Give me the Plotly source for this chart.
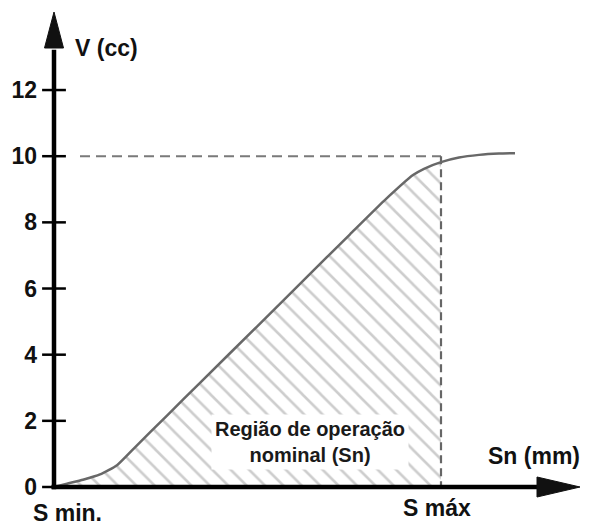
import plotly.graph_objects as go

# ---- data ----
curve_x = [0, 1.3, 2.9, 4.6, 6.3, 8.0, 11.3, 14.6, 20.3, 25.0, 29.6, 33.0, 35.9, 37.0, 38.7, 40.5, 42.5, 44.5, 46.1]
curve_y = [0, 0.10, 0.22, 0.38, 0.66, 1.17, 2.16, 3.15, 4.85, 6.26, 7.64, 8.65, 9.43, 9.62, 9.82, 9.96, 10.04, 10.08, 10.09]
S_MAX = 38.7
V_REF = 10
DASH_START = 2.6
y_ticks = [0, 2, 4, 6, 8, 10, 12]

# ---- geometry (page has an 8px body margin; px = X0PX + 10*x ; py = Y0PX - 33.08*y) ----
W, H = 582, 520
X0PX, XS = 46, 10.0
Y0PX, YS = 479, 33.08
x_range = [-X0PX / XS, (W - X0PX) / XS]
y_range = [(Y0PX - H) / YS, Y0PX / YS]

X_TIP, X_BASE, X_HALF = 52.6, 48.3, 10 / YS
Y_TIP, Y_BASE, Y_HALF = 475 / YS, 439 / YS, 9.5 / XS

fig = go.Figure()

# hatched region
hx = [x for x in curve_x if x <= S_MAX]
hy = curve_y[:len(hx)]
fig.add_trace(go.Scatter(
    x=hx + [S_MAX], y=hy + [0], mode="lines", line=dict(width=0, color="rgba(0,0,0,0)"),
    fill="tozeroy", fillcolor="rgba(0,0,0,0)",
    fillpattern=dict(shape="\\", size=13, solidity=0.2, fgcolor="#9c9c9c", bgcolor="rgba(0,0,0,0)"),
    hoverinfo="skip", showlegend=False))

# dashed reference lines
fig.add_trace(go.Scatter(x=[DASH_START, S_MAX], y=[V_REF, V_REF], mode="lines",
                         line=dict(color="#7a7a7a", width=2, dash="10px,6px"), showlegend=False))
fig.add_trace(go.Scatter(x=[S_MAX, S_MAX], y=[V_REF, 0], mode="lines",
                         line=dict(color="#666666", width=2.2, dash="8px,5px"), showlegend=False))

# curve
fig.add_trace(go.Scatter(x=curve_x, y=curve_y, mode="lines",
                         line=dict(color="#686868", width=2.5, shape="spline", smoothing=0.5),
                         showlegend=False))

# tick crossers
fig.add_trace(go.Scatter(x=[0] * len(y_ticks), y=y_ticks, mode="markers",
                         marker=dict(symbol="line-ew", size=17, line=dict(width=2.5, color="black")),
                         showlegend=False, cliponaxis=False))

# axes lines + arrowheads
shapes = [
    dict(type="line", xref="x", yref="y", x0=-0.25, y0=0, x1=X_BASE + 0.2, y1=0,
         line=dict(color="black", width=4.5), layer="above"),
    dict(type="line", xref="x", yref="y", x0=0, y0=-0.07, x1=0, y1=Y_BASE - 0.05,
         line=dict(color="black", width=4.5), layer="above"),
    dict(type="path", xref="x", yref="y",
         path=f"M{X_TIP},0 L{X_BASE},{X_HALF} L{X_BASE},{-X_HALF} Z",
         fillcolor="#111111", line=dict(color="#111111", width=1), layer="above"),
    dict(type="path", xref="x", yref="y",
         path=f"M0,{Y_TIP} L{Y_HALF},{Y_BASE} L{-Y_HALF},{Y_BASE} Z",
         fillcolor="#111111", line=dict(color="#111111", width=1), layer="above"),
]

FONT = "Liberation Sans, Arial, sans-serif"
ann = [
    dict(x=1.9, y=13.27, text="V (cc)", xanchor="left", yanchor="middle", showarrow=False,
         font=dict(family=FONT, size=23, color="#111111", weight="bold")),
    dict(x=47.95, y=0.94, text="Sn (mm)", xanchor="center", yanchor="middle", showarrow=False,
         font=dict(family=FONT, size=23, color="#111111", weight="bold")),
    dict(x=1.35, y=-0.79, text="S min.", xanchor="center", yanchor="middle", showarrow=False,
         font=dict(family=FONT, size=23, color="#111111", weight="bold")),
    dict(x=38.3, y=-0.63, text="S máx", xanchor="center", yanchor="middle", showarrow=False,
         font=dict(family=FONT, size=23, color="#111111", weight="bold")),
    dict(x=25.6, y=1.36, text="Região de operação<br>nominal (Sn)", xanchor="center", yanchor="middle",
         showarrow=False, align="center", bgcolor="white", borderpad=3,
         font=dict(family=FONT, size=20, color="#1a1a1a", weight="bold")),
]

fig.update_layout(
    width=W, height=H, margin=dict(l=0, r=0, t=0, b=0),
    paper_bgcolor="white", plot_bgcolor="white",
    xaxis=dict(range=x_range, visible=False, fixedrange=True),
    yaxis=dict(range=y_range, anchor="free", position=X0PX / W, tickvals=y_ticks,
               ticks="", showline=False, showgrid=False, zeroline=False,
               ticklabelstandoff=17,
               tickfont=dict(family=FONT, size=23, color="#111111", weight="bold")),
    shapes=shapes, annotations=ann, showlegend=False,
)

fig.write_html("out.html")
